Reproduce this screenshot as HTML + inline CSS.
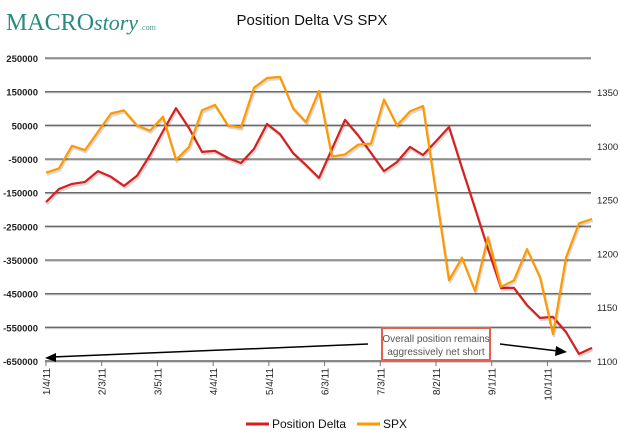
<!DOCTYPE html>
<html><head><meta charset="utf-8"><style>
body{margin:0;background:#fff;width:620px;height:433px;overflow:hidden;font-family:"Liberation Sans",sans-serif}
svg{display:block}
</style></head><body>
<svg id="chart" width="620" height="433" xmlns="http://www.w3.org/2000/svg">
<g>
<text x="6" y="30" font-family="Liberation Serif,serif" font-size="24" fill="#2b8a80">MACRO<tspan font-style="italic" font-size="22">story</tspan><tspan font-size="8" fill="#4a9a90" dx="2">.com</tspan></text>
</g>
<text x="312" y="25" text-anchor="middle" font-size="15" fill="#111">Position Delta VS SPX</text>
<g id="grid"></g>
<g id="lines"></g>
<g id="axes"></g>
<g>
<line x1="368" y1="344" x2="52" y2="357" stroke="#000" stroke-width="1.5"/>
<polygon points="45,358 56,353 56,362" fill="#000"/>
<line x1="500" y1="344" x2="558" y2="351" stroke="#000" stroke-width="1.5"/>
<polygon points="567,352 556,346 555,356" fill="#000"/>
<rect x="382" y="328" width="108" height="32" fill="#fff" stroke="#e8604c" stroke-width="2"/>
<text x="436" y="342" text-anchor="middle" font-size="10" fill="#555">Overall position remains</text>
<text x="436" y="355" text-anchor="middle" font-size="10" fill="#555">aggressively net short</text>
</g>
<g>
<line x1="246" y1="424" x2="269" y2="424" stroke="#d62020" stroke-width="3"/>
<text x="272" y="428" font-size="12" fill="#111">Position Delta</text>
<line x1="357" y1="424" x2="380" y2="424" stroke="#ff9900" stroke-width="3"/>
<text x="383" y="428" font-size="12" fill="#111">SPX</text>
</g>
</svg>
<script>
const positionDelta=[-178000,-139000,-124000,-118000,-86000,-103000,-130000,-100000,-38000,33000,101000,42000,-29000,-26000,-47000,-62000,-20000,54000,24000,-32000,-68000,-106000,-20000,66000,21000,-32000,-86000,-59000,-14000,-38000,3000,45000,-77000,-196000,-317000,-433000,-433000,-484000,-522000,-519000,-564000,-629000,-611000];
const spx=[1275,1279,1300,1296,1313,1330,1333,1319,1314,1327,1287,1299,1333,1338,1319,1317,1354,1363,1364,1335,1322,1351,1290,1292,1301,1302,1343,1319,1332,1337,1256,1175,1196,1165,1215,1169,1175,1204,1178,1125,1196,1228,1232];
const leftTicks=[250000,150000,50000,-50000,-150000,-250000,-350000,-450000,-550000,-650000];
const rightTicks=[1350,1300,1250,1200,1150,1100];
const dateLabels=["1/4/11","2/3/11","3/5/11","4/4/11","5/4/11","6/3/11","7/3/11","8/2/11","9/1/11","10/1/11"];
const dateDays=[0,30,60,90,120,150,180,210,240,270];

const NS="http://www.w3.org/2000/svg";
const X0=46,PX_PER_DAY=13/7,PLOT_L=45,PLOT_R=591;
const xDay=d=>X0+d*PX_PER_DAY;
const xIdx=i=>xDay(i*7);
const yL=v=>58+(250000-v)/900000*303;
const yR=v=>361-(v-1100)/250*269;
function el(t,a,p){const e=document.createElementNS(NS,t);for(const k in a)e.setAttribute(k,a[k]);p.appendChild(e);return e;}
const grid=document.getElementById('grid'),lines=document.getElementById('lines'),axes=document.getElementById('axes');

leftTicks.forEach((v,i)=>{
  const y=yL(v);
  const g=el('line',{x1:PLOT_L,x2:PLOT_R,y1:y+1,y2:y+1,stroke:'#ccc','stroke-width':1.5},grid);
  
  
  const l=el('line',{x1:PLOT_L,x2:PLOT_R,y1:y,y2:y,stroke:i===leftTicks.length-1?'#888':'#6a6a6a','stroke-width':i===leftTicks.length-1?2:1.3},grid);
  
  
  const t=el('text',{x:38,y:y+4,'text-anchor':'end','font-size':9.5,'font-weight':'bold',fill:'#222'},axes);
  t.textContent=v<0?'-'+Math.abs(v):String(v);
  
  
});
rightTicks.forEach(v=>{
  const t=el('text',{x:597,y:yR(v)+4,'font-size':9.5,fill:'#222'},axes);
  t.textContent=v;
  
  
});
dateLabels.forEach((s,i)=>{
  const x=xDay(dateDays[i]);
  const tk=el('line',{x1:x,x2:x,y1:361,y2:366,stroke:'#777','stroke-width':1},axes);
  
  
  const t=el('text',{x:0,y:0,'text-anchor':'end','font-size':10,fill:'#222',transform:`translate(${x+4},368) rotate(-90)`},axes);
  t.textContent=s;
  
  
});
function series(vals,yf,color,name){
  const pts=vals.map((v,i)=>xIdx(i).toFixed(1)+','+yf(v).toFixed(1)).join(' ');
  const sh=el('polyline',{points:pts,fill:'none',stroke:'rgba(0,0,0,0.15)','stroke-width':2.5,transform:'translate(1,2)','stroke-linejoin':'round'},lines);
  
  
  const p=el('polyline',{points:pts,fill:'none',stroke:color,'stroke-width':2.2,'stroke-linejoin':'round'},lines);
  
  
}
series(positionDelta,yL,'#d62020','position-delta');
series(spx,yR,'#ff9900','spx');
</script>
</body></html>
